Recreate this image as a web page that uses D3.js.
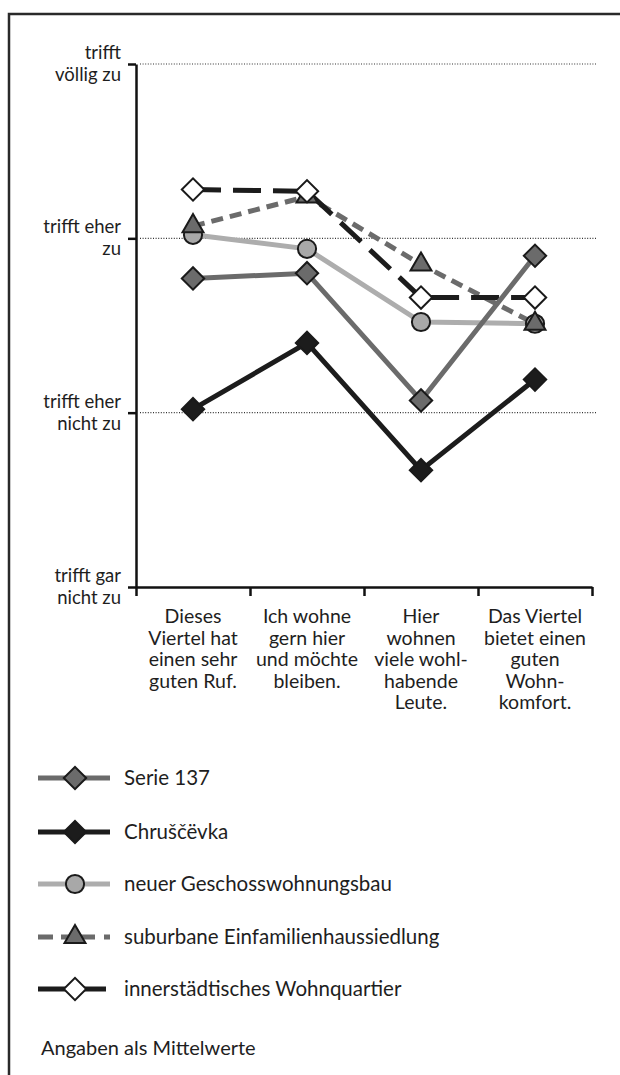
<!DOCTYPE html>
<html>
<head>
<meta charset="utf-8">
<script src="https://cdn.jsdelivr.net/npm/d3@7"></script>
<style>
  body { margin: 0; background: #fff; }
  text { font-family: Lato, "Open Sans", sans-serif; fill: #1e1e1e; }
</style>
</head>
<body>
<div id="chart"></div>
<script>
// categories (x), each label split in lines
var categories = [
  ["Dieses", "Viertel hat", "einen sehr", "guten Ruf."],
  ["Ich wohne", "gern hier", "und möchte", "bleiben."],
  ["Hier", "wohnen", "viele wohl-", "habende", "Leute."],
  ["Das Viertel", "bietet einen", "guten", "Wohn-", "komfort."]
];
var levelValues = [1, 2, 3, 4];
var levelLabels = [
  ["trifft gar", "nicht zu"],
  ["trifft eher", "nicht zu"],
  ["trifft eher", "zu"],
  ["trifft", "völlig zu"]
];

// series values (mean on scale 1..4)
var serie137 = [2.77, 2.80, 2.07, 2.90];
var chruscevka = [2.02, 2.40, 1.67, 2.19];
var neuerBau = [3.02, 2.94, 2.52, 2.51];
var suburban = [3.07, 3.24, 2.85, 2.51];
var innerstadt = [3.28, 3.27, 2.66, 2.66];

var seriesNames = ["Serie 137", "Chruščëvka", "neuer Geschosswohnungsbau",
  "suburbane Einfamilienhaussiedlung", "innerstädtisches Wohnquartier"];
var note = "Angaben als Mittelwerte";

var styles = [
  { data: serie137, line: "#6b6b6b", dash: null, shape: "diamond", fill: "#6b6b6b" },
  { data: chruscevka, line: "#1c1c1c", dash: null, shape: "diamond", fill: "#1c1c1c" },
  { data: neuerBau, line: "#adadad", dash: null, shape: "circle", fill: "#a8a8a8" },
  { data: suburban, line: "#6b6b6b", dash: "12,7", shape: "triangle", fill: "#6b6b6b", legendDash: true },
  { data: innerstadt, line: "#1c1c1c", dash: "28,12", shape: "diamond", fill: "#ffffff" }
];
styles.forEach(function(s, i) { s.name = seriesNames[i]; });

var W = 620, H = 1075;
var svg = d3.select("#chart").append("svg")
  .attr("width", W).attr("height", H);

svg.append("rect").attr("width", W).attr("height", H).attr("fill", "#fff");

// frame
svg.append("path")
  .attr("d", "M9,1075 L9,14 L620,14")
  .attr("fill", "none").attr("stroke", "#2a2a2a").attr("stroke-width", 2.5);

var plotLeft = 136, plotRight = 592, plotTop = 64, plotBottom = 587;

var y = d3.scaleLinear().domain([1, 4]).range([plotBottom, plotTop]);
var x = d3.scaleBand().domain(d3.range(categories.length)).range([plotLeft, plotRight]);
var xEdge = d3.scaleLinear().domain([0, categories.length]).range([plotLeft, plotRight]);
var cx = function(i) { return x(i) + x.bandwidth() / 2; };

// dotted grid
svg.append("g").selectAll("line")
  .data(levelValues.slice(1))
  .enter().append("line")
  .attr("x1", plotLeft + 4).attr("x2", plotRight + 5)
  .attr("y1", d => y(d)).attr("y2", d => y(d))
  .attr("stroke", "#333").attr("stroke-width", 1.2)
  .attr("stroke-dasharray", "1,1.6");

// y axis
var yAxis = svg.append("g")
  .attr("transform", `translate(${plotLeft},0)`)
  .call(d3.axisLeft(y).tickValues(levelValues).tickSize(8).tickSizeOuter(0).tickFormat(""));
yAxis.selectAll("path, line").attr("stroke", "#111").attr("stroke-width", 2.5);

levelValues.forEach(function(v, i) {
  var t = svg.append("text")
    .attr("text-anchor", "end")
    .attr("font-size", 18.5);
  levelLabels[i].forEach(function(s, k) {
    t.append("tspan").attr("x", 121).attr("y", y(v) - 5 + k * 22).text(s);
  });
});

// x axis
var xAxis = svg.append("g")
  .attr("transform", `translate(0,${plotBottom})`)
  .call(d3.axisBottom(xEdge).tickValues(d3.range(categories.length + 1)).tickSize(9).tickSizeOuter(0).tickFormat(""));
xAxis.selectAll("path, line").attr("stroke", "#111").attr("stroke-width", 2.5);

categories.forEach(function(c, i) {
  var t = svg.append("text")
    .attr("text-anchor", "middle")
    .attr("font-size", 19.5);
  c.forEach(function(s, k) {
    t.append("tspan").attr("x", cx(i)).attr("y", 623 + k * 21.5).text(s);
  });
});

// symbols
function symbolPath(shape) {
  if (shape === "circle") return d3.symbol().type(d3.symbolCircle).size(260)();
  if (shape === "triangle") return d3.symbol().type(d3.symbolTriangle).size(190)();
  return d3.symbol().type(d3.symbolSquare).size(250)();
}
function symbolRot(shape) { return shape === "diamond" ? 45 : 0; }

var line = d3.line().x((d, i) => cx(i)).y(d => y(d));

var drawOrder = [2, 3, 4, 0, 1];
drawOrder.forEach(function(idx) {
  var s = styles[idx];
  svg.append("path")
    .datum(s.data)
    .attr("d", line)
    .attr("fill", "none")
    .attr("stroke", s.line)
    .attr("stroke-width", 5)
    .attr("stroke-dasharray", s.dash);
});
drawOrder.forEach(function(idx) {
  var s = styles[idx];
  svg.append("g").selectAll("path")
    .data(s.data)
    .enter().append("path")
    .attr("d", symbolPath(s.shape))
    .attr("transform", (d, i) => `translate(${cx(i)},${y(d)}) rotate(${symbolRot(s.shape)})`)
    .attr("fill", s.fill)
    .attr("stroke", "#1a1a1a")
    .attr("stroke-width", 2);
});

// legend
var legendY = [778, 832, 884, 937, 989];
var legend = svg.append("g");
styles.forEach(function(s, i) {
  var g = legend.append("g").attr("transform", `translate(0,${legendY[i]})`);
  if (s.legendDash) {
    g.append("path").attr("d", "M38,0 H53 M61,0 H95 M104,0 H110")
      .attr("stroke", s.line).attr("stroke-width", 5);
  } else {
    g.append("line").attr("x1", 38).attr("x2", i === 4 ? 106 : 110)
      .attr("stroke", s.line).attr("stroke-width", 5);
  }
  g.append("path")
    .attr("d", symbolPath(s.shape))
    .attr("transform", `translate(75,0) rotate(${symbolRot(s.shape)})`)
    .attr("fill", s.fill)
    .attr("stroke", "#1a1a1a")
    .attr("stroke-width", 2);
  g.append("text")
    .attr("x", 124).attr("y", 7)
    .attr("font-size", 20.5)
    .text(s.name);
});

svg.append("text")
  .attr("x", 41).attr("y", 1055)
  .attr("font-size", 20)
  .text(note);
</script>
</body>
</html>
